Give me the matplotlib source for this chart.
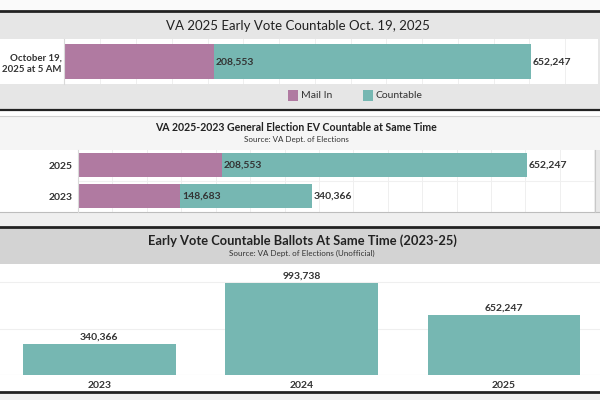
import matplotlib
matplotlib.use('Agg')
import matplotlib.pyplot as plt
from matplotlib.patches import Rectangle
from matplotlib.lines import Line2D

plt.rcParams['font.family'] = ['Lato', 'DejaVu Sans']

# data
mail_color = '#b07aa1'
count_color = '#76b7b2'

p1_label = ['October 19,\n2025 at 5 AM']
p1_mail = [208553]
p1_countable = [652247]

p2_years = ['2025', '2023']
p2_mail = [208553, 148683]
p2_countable = [652247, 340366]

p3_years = ['2023', '2024', '2025']
p3_countable = [340366, 993738, 652247]

W, H = 600, 400
fig = plt.figure(figsize=(6, 4), dpi=100)
fig.patch.set_facecolor('white')


def box(x0, y0, x1, y1, color, z=0):
    fig.add_artist(Rectangle((x0 / W, 1 - y1 / H), (x1 - x0) / W, (y1 - y0) / H,
                             transform=fig.transFigure, facecolor=color,
                             edgecolor='none', zorder=z))


def hline(y, x0, x1, color, lw):
    fig.add_artist(Line2D([x0 / W, x1 / W], [1 - y / H, 1 - y / H],
                          transform=fig.transFigure, color=color, lw=lw, zorder=3))


def vline(x, y0, y1, color, lw):
    fig.add_artist(Line2D([x / W, x / W], [1 - y0 / H, 1 - y1 / H],
                          transform=fig.transFigure, color=color, lw=lw, zorder=3))


def txt(x, y, s, color='#333333', **kw):
    fig.text(x / W, 1 - y / H, s, va='center', color=color, **kw)


def make_ax(x0, y0, x1, y1):
    ax = fig.add_axes([x0 / W, 1 - y1 / H, (x1 - x0) / W, (y1 - y0) / H])
    ax.set_facecolor('none')
    for s in ax.spines.values():
        s.set_visible(False)
    return ax


def fmt(v):
    return f'{v:,}'


LBL = 7.5

# ---------- panel 1 ----------
box(0, 0, 600, 10.5, '#fafafa')
box(0, 12, 600, 39.3, '#e6e6e6')
box(0, 39.3, 600, 84, 'white')
box(598, 39.3, 600, 84, '#e6e6e6')
box(0, 84, 600, 109.5, '#e6e6e6')
hline(11.2, 0, 600, '#222222', 2.0)
hline(110.3, 0, 600, '#222222', 1.6)
vline(64.3, 39.3, 84, '#d9d9d9', 0.8)
txt(298, 26, 'VA 2025 Early Vote Countable Oct. 19, 2025', ha='center', fontsize=9.5,
    color='#222222')

ax1 = make_ax(64.5, 39.3, 598, 84)
ax1.barh([0], p1_countable, height=0.78, color=count_color, zorder=2)
ax1.barh([0], p1_mail, height=0.78, color=mail_color, zorder=3)
ax1.set_xlim(0, 746000)
ax1.set_ylim(-0.5, 0.5)
ax1.set_xticks(range(50000, 746000, 50000))
ax1.xaxis.grid(True, color='#efefef', lw=0.7, zorder=0)
ax1.tick_params(axis='x', length=0, labelbottom=False)
ax1.set_yticks([0], p1_label)
ax1.tick_params(axis='y', length=0, pad=2)
for t in ax1.get_yticklabels():
    t.set_fontweight('bold')
    t.set_fontsize(6.9)
    t.set_color('#333333')
    t.set_linespacing(1.3)
for m, c in zip(p1_mail, p1_countable):
    ax1.text(m + 2500, 0, fmt(m), va='center', ha='left', fontsize=LBL,
             fontweight='bold', color='#333333', zorder=4)
    ax1.text(c + 2500, 0, fmt(c), va='center', ha='left', fontsize=LBL,
             fontweight='bold', color='#333333', zorder=4)

box(288, 90.5, 298, 100.5, mail_color, z=2)
txt(301, 95.5, 'Mail In', ha='left', fontsize=7.5)
box(363, 90.5, 373, 100.5, count_color, z=2)
txt(376, 95.5, 'Countable', ha='left', fontsize=7.5)

# ---------- panel 2 ----------
box(0, 111.5, 600, 116, 'white')
box(0, 116, 600, 150, '#f5f5f5')
box(0, 150, 600, 211.7, 'white')
box(595, 150, 600, 211.7, '#e8e8e8')
box(0, 211.7, 600, 226, '#efefef')
hline(116.2, 0, 600, '#d0d0d0', 0.8)
hline(211.9, 0, 600, '#bdbdbd', 0.8)
vline(77.5, 150, 211.7, '#d9d9d9', 0.8)
vline(595.3, 150, 211.7, '#c8c8c8', 0.8)
txt(296, 127.5, 'VA 2025-2023 General Election EV Countable at Same Time',
    ha='center', fontsize=7.6, fontweight='bold', color='#222222')
txt(296, 139.5, 'Source: VA Dept. of Elections', ha='center', fontsize=5.8)

ax2 = make_ax(78, 150, 595, 211.7)
ypos = list(range(len(p2_years)))
ax2.barh(ypos, p2_countable, height=0.78, color=count_color, zorder=2)
ax2.barh(ypos, p2_mail, height=0.78, color=mail_color, zorder=3)
ax2.set_xlim(0, 751000)
ax2.set_ylim(1.5, -0.5)
ax2.set_xticks(range(50000, 751000, 50000))
ax2.xaxis.grid(True, color='#efefef', lw=0.7, zorder=0)
ax2.tick_params(axis='x', length=0, labelbottom=False)
ax2.set_yticks(ypos, p2_years)
ax2.tick_params(axis='y', length=0, pad=3.5)
for t in ax2.get_yticklabels():
    t.set_fontweight('bold')
    t.set_fontsize(LBL)
    t.set_color('#333333')
ax2.axhline(0.5, color='#f0f0f0', lw=0.8, zorder=1)
for i, (m, c) in enumerate(zip(p2_mail, p2_countable)):
    ax2.text(m + 2500, i, fmt(m), va='center', ha='left', fontsize=LBL,
             fontweight='bold', color='#333333', zorder=4)
    ax2.text(c + 2500, i, fmt(c), va='center', ha='left', fontsize=LBL,
             fontweight='bold', color='#333333', zorder=4)

# ---------- panel 3 ----------
box(0, 228, 600, 264.3, '#d3d3d3')
box(0, 264.3, 600, 390.7, 'white')
box(0, 393, 600, 400, '#f0f0f0')
hline(227, 0, 600, '#222222', 2.0)
hline(391.8, 0, 600, '#222222', 2.0)
txt(302, 241, 'Early Vote Countable Ballots At Same Time (2023-25)',
    ha='center', fontsize=9.3, fontweight='bold', color='#222222')
txt(302, 253.5, 'Source: VA Dept. of Elections (Unofficial)', ha='center', fontsize=5.8)

ax3 = make_ax(-1.7, 264.3, 604.9, 375.3)
xpos = list(range(len(p3_years)))
ax3.bar(xpos, p3_countable, width=0.754, color=count_color, zorder=2)
ax3.set_xlim(-0.5, 2.5)
ax3.set_ylim(0, 1193500)
ax3.set_yticks([500000, 1000000])
ax3.yaxis.grid(True, color='#efefef', lw=0.8, zorder=0)
ax3.tick_params(axis='y', length=0, labelleft=False)
ax3.set_xticks(xpos, p3_years)
ax3.tick_params(axis='x', length=0, pad=4)
for t in ax3.get_xticklabels():
    t.set_fontweight('bold')
    t.set_fontsize(LBL)
    t.set_color('#333333')
ax3.axhline(0, color='#e8e8e8', lw=0.8, zorder=1)
for x, v in zip(xpos, p3_countable):
    ax3.text(x, v + 25000, fmt(v), ha='center', va='bottom', fontsize=LBL,
             fontweight='bold', color='#333333', zorder=4)

fig.savefig('out.png', dpi=100)
